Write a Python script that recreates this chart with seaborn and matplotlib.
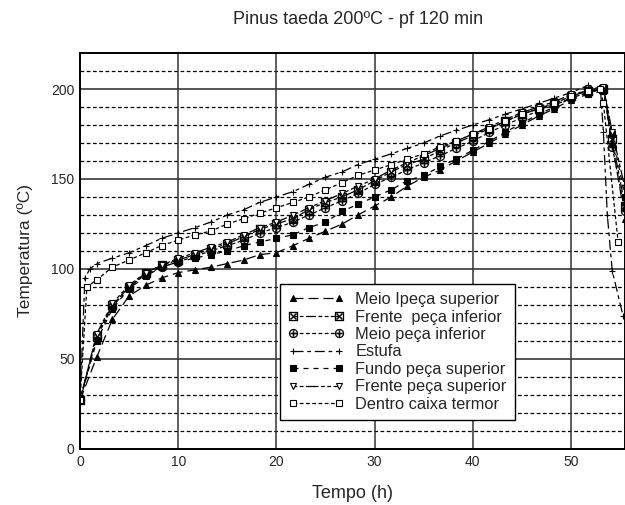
import pandas as pd
import matplotlib
matplotlib.use("Agg")
import matplotlib.pyplot as plt
import seaborn as sns
from matplotlib.ticker import MultipleLocator

# --- DATA ---
tempo = [0, 1.7, 3.3, 5, 6.7, 8.3, 10, 11.7, 13.3, 15, 16.7, 18.3, 20, 21.7, 23.3,
         25, 26.7, 28.3, 30, 31.7, 33.3, 35, 36.7, 38.3, 40, 41.7, 43.3, 45, 46.7,
         48.3, 50, 51.7, 53.3, 54.2, 55.5]

meio_sup = [27, 51, 72, 85, 91, 95, 98, 99.5, 101, 103, 105, 108, 109, 113, 117,
            121, 125, 130, 135, 140, 146, 151, 155, 160, 165, 170, 175, 180, 185,
            189, 194, 197, 199, 170, 128]
frente_inf = [27, 63, 80, 90, 98, 102, 105, 108, 111, 114, 118, 122, 125, 128, 133,
              137, 140, 144, 149, 154, 158, 161, 166, 170, 174, 178, 182, 186, 189,
              192, 196, 199, 200, 172, 135]
meio_inf = [27, 62, 79, 90, 97, 101, 104, 107, 110, 113, 116, 120, 123, 126, 130,
            134, 138, 142, 147, 151, 155, 159, 163, 167, 171, 176, 180, 184, 188,
            191, 195, 198, 200, 168, 132]
fundo_sup = [27, 60, 78, 89, 96, 101, 104, 106, 108, 110, 113, 115, 117, 119, 123,
             126, 132, 136, 140, 144, 149, 152, 157, 161, 166, 171, 176, 181, 186,
             190, 195, 198, 200, 175, 140]
frente_sup = [27, 64, 81, 91, 98, 102, 106, 109, 112, 115, 119, 123, 126, 130, 134,
              138, 142, 146, 150, 155, 159, 163, 167, 171, 175, 179, 183, 187, 190,
              193, 197, 199, 201, 176, 145]

tempo_estufa = [0, 0.5, 1.0, 1.7, 3.3, 5, 6.7, 8.3, 10, 11.7, 13.3, 15, 16.7, 18.3,
                20, 21.7, 23.3, 25, 26.7, 28.3, 30, 31.7, 33.3, 35, 36.7, 38.3, 40,
                41.7, 43.3, 45, 46.7, 48.3, 50, 51.7, 53.0, 53.3, 53.7, 54.2, 55.3]
estufa = [27, 95, 100, 103, 106, 109, 113, 117, 120, 123, 126, 130, 133, 137,
          140, 143, 147, 151, 154, 158, 161, 164, 167, 170, 174, 177, 180,
          183, 186, 189, 192, 195, 198, 202, 200, 176, 130, 99, 74]

tempo_caixa = [0, 0.7, 1.7, 3.3, 5, 6.7, 8.3, 10, 11.7, 13.3, 15, 16.7, 18.3, 20,
               21.7, 23.3, 25, 26.7, 28.3, 30, 31.7, 33.3, 35, 36.7, 38.3, 40, 41.7,
               43.3, 45, 46.7, 48.3, 50, 51.7, 53.0, 53.3, 54.8]
caixa = [27, 90, 94, 101, 105, 109, 113, 116, 119, 121, 125, 128, 131, 134,
         137, 140, 144, 148, 152, 155, 158, 161, 164, 168, 171, 175, 178,
         182, 186, 189, 192, 196, 199, 200, 192, 115]

# label, x, y, marker, face colour, dash pattern
SERIES = [
    ("Meio Ipeça superior", tempo, meio_sup, "^", "black", (8, 4)),
    ("Frente  peça inferior", tempo, frente_inf, r"$\boxtimes$", "black", (3, 2, 3, 2, 8, 2)),
    ("Meio peça inferior", tempo, meio_inf, r"$\oplus$", "black", (3, 2)),
    ("Estufa", tempo_estufa, estufa, "+", "black", (8, 3, 3, 3)),
    ("Fundo peça superior", tempo, fundo_sup, "s", "black", (4, 4)),
    ("Frente peça superior", tempo, frente_sup, "v", "white", (3, 2, 3, 2, 10, 2)),
    ("Dentro caixa termor", tempo_caixa, caixa, "s", "white", (3, 2)),
]

# --- STYLE ---
sns.set_theme(style="white")
plt.rcParams['font.family'] = ['Liberation Sans', 'DejaVu Sans']

fig = plt.figure(figsize=(6.25, 5.05), dpi=100)
ax = fig.add_axes([0.128, 0.111, 0.872, 0.784])

# grid: solid every 50 / 10 h, dashed every 10 degC
for y in range(10, 220, 10):
    if y % 50 == 0:
        ax.axhline(y, color='#555555', lw=1.4, zorder=0)
    else:
        ax.axhline(y, color='black', lw=0.9, ls=(0, (3, 2)), zorder=0)
for x in range(10, 60, 10):
    ax.axvline(x, color='#333333', lw=1.1, zorder=0)

for label, xs, ys, mk, fc, dash in SERIES:
    df = pd.DataFrame({'Tempo': xs, 'Temperatura': ys})
    is_text = mk.startswith("$")
    sns.lineplot(data=df, x='Tempo', y='Temperatura', ax=ax, sort=False,
                 color='black', lw=0.9, linestyle=(0, dash),
                 marker=mk, markersize=6.5 if is_text else 5, markerfacecolor=fc,
                 markeredgecolor='black', markeredgewidth=0.2 if is_text else 0.8,
                 label=label)

ax.set_xlim(0, 55.5)
ax.set_ylim(0, 220)
ax.xaxis.set_major_locator(MultipleLocator(10))
ax.yaxis.set_major_locator(MultipleLocator(50))
ax.tick_params(labelsize=10, length=0, pad=4)
for s in ax.spines.values():
    s.set_color('black')
    s.set_linewidth(1.4)

ax.set_xlabel('Tempo (h)', fontsize=13, labelpad=12)
ax.set_ylabel('Temperatura (ºC)', fontsize=12.5, labelpad=13)
fig.text(0.573, 0.962, 'Pinus taeda 200ºC - pf 120 min', ha='center', va='center',
         fontsize=13)

leg = ax.legend(loc='lower left', bbox_to_anchor=(0.367, 0.073), fontsize=11.8,
                numpoints=2, handlelength=3.4, fancybox=False, framealpha=1,
                edgecolor='black', borderpad=0.5, labelspacing=0.15,
                handletextpad=0.7, borderaxespad=0)
leg.get_frame().set_linewidth(1.0)

fig.savefig('out.png', dpi=100)
